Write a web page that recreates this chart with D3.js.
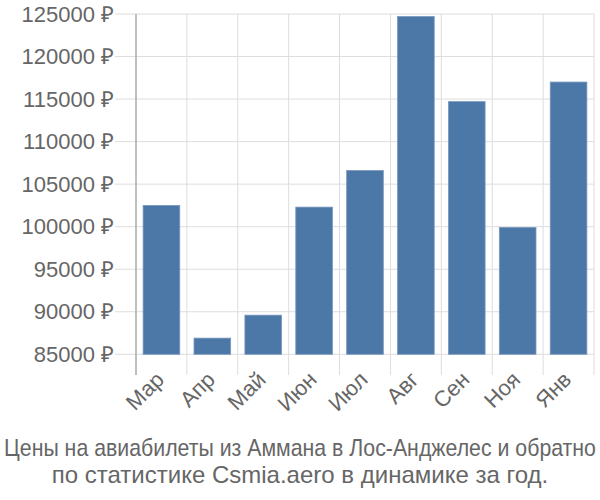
<!DOCTYPE html>
<html><head><meta charset="utf-8">
<script src="https://cdn.jsdelivr.net/npm/d3@7"></script>
<style>body{margin:0;background:#fff}</style>
</head><body>
<svg id="c" width="600" height="500"></svg>
<script>
const categories = ["Мар","Апр","Май","Июн","Июл","Авг","Сен","Ноя","Янв"];
const values = [102500, 86900, 89600, 102300, 106600, 124700, 114700, 99900, 117000];
const yTicks = [85000,90000,95000,100000,105000,110000,115000,120000,125000];
const titleLines = ["Цены на авиабилеты из Аммана в Лос-Анджелес и обратно","по статистике Csmia.aero в динамике за год."];

const svg = d3.select("#c");
const L=136, R=594, T=14, B=354.3;
const x = d3.scaleBand().domain(categories).range([L,R]);
const y = d3.scaleLinear().domain([85000,125000]).range([B,T]);
const font = "'Liberation Sans', Arial, sans-serif";

// horizontal grid
svg.append("g").selectAll("line").data(yTicks).join("line")
  .attr("x1",115).attr("x2",R).attr("y1",d=>y(d)).attr("y2",d=>y(d))
  .attr("stroke","#ddd").attr("stroke-width",1);
// vertical grid
const vx = categories.map(c=>x(c)).concat([R]);
svg.append("g").selectAll("line").data(vx.slice(1)).join("line")
  .attr("x1",d=>d).attr("x2",d=>d).attr("y1",T).attr("y2",375)
  .attr("stroke","#ddd").attr("stroke-width",1);
// y axis line
svg.append("line").attr("x1",L).attr("x2",L).attr("y1",T).attr("y2",375)
  .attr("stroke","#aaa").attr("stroke-width",1.5);

// bars
const bw = x.bandwidth()*0.72;
svg.append("g").selectAll("rect").data(values).join("rect")
  .attr("x",(d,i)=>x(categories[i])+x.bandwidth()/2-bw/2)
  .attr("width",bw)
  .attr("y",d=>y(d)).attr("height",d=>B-y(d))
  .attr("fill","#4c78a8").attr("stroke","#7896bd").attr("stroke-width",0.8);

// y labels
svg.append("g").selectAll("text").data(yTicks).join("text")
  .attr("x",114).attr("y",d=>y(d)).attr("dy","0.35em")
  .attr("text-anchor","end").attr("fill","#666")
  .style("font-family",font).style("font-size","22px")
  .text(d=>d+" ₽");

// x labels
svg.append("g").selectAll("text").data(categories).join("text")
  .attr("transform",d=>`translate(${x(d)+x.bandwidth()/2+4},${381}) rotate(-45)`)
  .attr("text-anchor","end").attr("fill","#666")
  .style("font-family",font).style("font-size","22px")
  .text(d=>d);

// title
const tt = svg.append("g").selectAll("text").data(titleLines).join("text")
  .attr("x",0).attr("y",0)
  .attr("text-anchor","middle").attr("fill","#666")
  .style("font-family",font).style("font-size","24px")
  .text(d=>d);
tt.each(function(d,i){
  const w = this.getComputedTextLength();
  const sx = w > 592 ? 592 / w : 1;
  d3.select(this).attr("transform",`translate(300,${456+i*27}) scale(${sx},1)`);
});
</script>
</body></html>
